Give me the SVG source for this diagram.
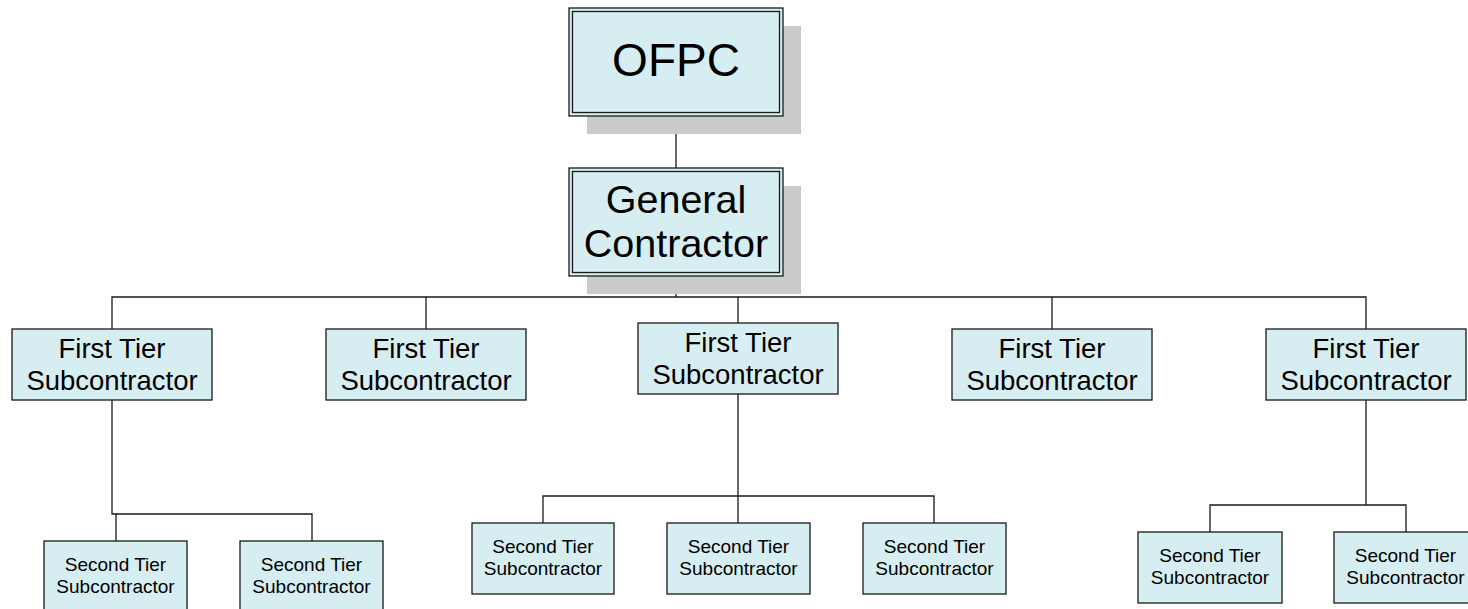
<svg xmlns="http://www.w3.org/2000/svg" width="1468" height="609" viewBox="0 0 1468 609">
<style>
.bg{fill:#ffffff}
.shadow{fill:#cbcbcb}
.box{fill:#d6eef2;stroke:#1a1a1a;stroke-width:1.3}
.inner{fill:none;stroke:#1a1a1a;stroke-width:1.3}
.t{font-family:"Liberation Sans",Arial,sans-serif;fill:#000;text-anchor:middle}
.t1{font-size:46px}
.t2{font-size:39.5px}
.t3{font-size:27.5px}
.t4{font-size:19px}
.c{fill:none;stroke:#1a1a1a;stroke-width:1.3}
</style>
<rect class="bg" x="0" y="0" width="1468" height="609"/>
<g id="connectors">
<path class="c" d="M676,116 V168"/>
<path class="c" d="M676,276 V297"/>
<path class="c" d="M112,329 V297 H1366 V329"/>
<path class="c" d="M426,297 V329"/>
<path class="c" d="M738,297 V323"/>
<path class="c" d="M1052,297 V329"/>
<path class="c" d="M112,400 V514 H312 V541"/>
<path class="c" d="M116,514 V541"/>
<path class="c" d="M738,394 V523"/>
<path class="c" d="M543,523 V496 H934 V523"/>
<path class="c" d="M1366,400 V505"/>
<path class="c" d="M1210,532 V505 H1406 V532"/>
</g>
<g id="ofpc">
<rect class="shadow" x="587" y="26" width="214" height="108"/>
<rect class="box" x="569" y="8" width="214" height="108"/>
<rect class="inner" x="572.5" y="11.5" width="207" height="101"/>
<text class="t t1" x="676" y="76">OFPC</text>
</g>
<g id="general-contractor">
<rect class="shadow" x="587" y="186" width="214" height="108"/>
<rect class="box" x="569" y="168" width="214" height="108"/>
<rect class="inner" x="572.5" y="171.5" width="207" height="101"/>
<text class="t t2" x="676" y="213">General</text>
<text class="t t2" x="676" y="257">Contractor</text>
</g>
<g id="first-tier-1">
<rect class="box" x="12" y="329" width="200" height="71"/>
<text class="t t3" x="112" y="358">First Tier</text>
<text class="t t3" x="112" y="390">Subcontractor</text>
</g>
<g id="first-tier-2">
<rect class="box" x="326" y="329" width="200" height="71"/>
<text class="t t3" x="426" y="358">First Tier</text>
<text class="t t3" x="426" y="390">Subcontractor</text>
</g>
<g id="first-tier-3">
<rect class="box" x="638" y="323" width="200" height="71"/>
<text class="t t3" x="738" y="352">First Tier</text>
<text class="t t3" x="738" y="384">Subcontractor</text>
</g>
<g id="first-tier-4">
<rect class="box" x="952" y="329" width="200" height="71"/>
<text class="t t3" x="1052" y="358">First Tier</text>
<text class="t t3" x="1052" y="390">Subcontractor</text>
</g>
<g id="first-tier-5">
<rect class="box" x="1266" y="329" width="200" height="71"/>
<text class="t t3" x="1366" y="358">First Tier</text>
<text class="t t3" x="1366" y="390">Subcontractor</text>
</g>
<g id="second-tier-1a">
<rect class="box" x="44" y="541" width="143" height="71"/>
<text class="t t4" x="115.5" y="571">Second Tier</text>
<text class="t t4" x="115.5" y="593">Subcontractor</text>
</g>
<g id="second-tier-1b">
<rect class="box" x="240" y="541" width="143" height="71"/>
<text class="t t4" x="311.5" y="571">Second Tier</text>
<text class="t t4" x="311.5" y="593">Subcontractor</text>
</g>
<g id="second-tier-3a">
<rect class="box" x="472" y="523" width="142" height="71"/>
<text class="t t4" x="543" y="553">Second Tier</text>
<text class="t t4" x="543" y="575">Subcontractor</text>
</g>
<g id="second-tier-3b">
<rect class="box" x="667" y="523" width="143" height="71"/>
<text class="t t4" x="738.5" y="553">Second Tier</text>
<text class="t t4" x="738.5" y="575">Subcontractor</text>
</g>
<g id="second-tier-3c">
<rect class="box" x="863" y="523" width="143" height="71"/>
<text class="t t4" x="934.5" y="553">Second Tier</text>
<text class="t t4" x="934.5" y="575">Subcontractor</text>
</g>
<g id="second-tier-5a">
<rect class="box" x="1138" y="532" width="144" height="71"/>
<text class="t t4" x="1210" y="562">Second Tier</text>
<text class="t t4" x="1210" y="584">Subcontractor</text>
</g>
<g id="second-tier-5b">
<rect class="box" x="1334" y="532" width="143" height="71"/>
<text class="t t4" x="1405.5" y="562">Second Tier</text>
<text class="t t4" x="1405.5" y="584">Subcontractor</text>
</g>
</svg>
